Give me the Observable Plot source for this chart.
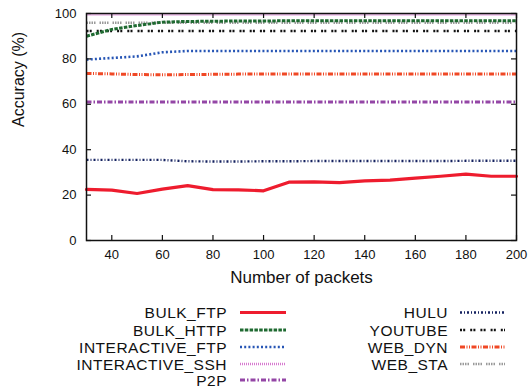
<!DOCTYPE html>
<html>
<head>
<meta charset="utf-8">
<script src="https://cdn.jsdelivr.net/npm/d3@7"></script>
<script src="https://cdn.jsdelivr.net/npm/@observablehq/plot@0.6"></script>
<style>
  body { margin: 0; background: #fff; font-family: "Liberation Sans", Arial, sans-serif; }
  #chart svg { display: block; }
</style>
</head>
<body>
<div id="chart"></div>
<script>
// ---- data ----
const packets = [30, 40, 50, 60, 70, 80, 90, 100, 110, 120, 130, 140, 150, 160, 170, 180, 190, 200];
const bulkFtp = [22.5, 22.2, 20.7, 22.6, 24.2, 22.4, 22.3, 21.9, 25.7, 25.8, 25.5, 26.3, 26.6, 27.5, 28.3, 29.2, 28.3, 28.3];
const bulkHttp = [90.0, 93.0, 94.7, 96.2, 96.5, 96.6, 96.7, 96.7, 96.8, 96.8, 96.8, 96.8, 96.8, 96.8, 96.8, 96.8, 96.8, 96.8];
const interactiveFtp = [79.7, 80.4, 81.1, 82.9, 83.5, 83.5, 83.5, 83.5, 83.5, 83.5, 83.5, 83.5, 83.5, 83.5, 83.5, 83.5, 83.5, 83.5];
const interactiveSsh = [99.6, 99.6, 99.6, 99.6, 99.6, 99.6, 99.6, 99.6, 99.6, 99.6, 99.6, 99.6, 99.6, 99.6, 99.6, 99.6, 99.6, 99.6];
const p2p = [61.0, 61.0, 61.0, 61.0, 61.0, 61.0, 61.0, 61.0, 61.0, 61.0, 61.0, 61.0, 61.0, 61.0, 61.0, 61.0, 61.0, 61.0];
const hulu = [35.5, 35.5, 35.5, 35.5, 34.9, 34.8, 34.8, 34.9, 34.9, 35.0, 35.0, 35.0, 35.0, 35.0, 35.0, 35.1, 35.1, 35.1];
const youtube = [92.3, 92.3, 92.3, 92.3, 92.3, 92.3, 92.3, 92.3, 92.3, 92.3, 92.3, 92.3, 92.3, 92.3, 92.3, 92.3, 92.3, 92.3];
const webDyn = [73.6, 73.4, 73.1, 73.0, 73.1, 73.2, 73.3, 73.3, 73.4, 73.4, 73.4, 73.4, 73.4, 73.4, 73.4, 73.4, 73.4, 73.4];
const webSta = [95.9, 95.9, 95.9, 95.9, 95.9, 95.9, 95.9, 95.9, 95.9, 95.9, 95.9, 95.9, 95.9, 95.9, 95.9, 95.9, 95.9, 95.9];
const xTicks = [40, 60, 80, 100, 120, 140, 160, 180, 200];
const yTicks = [0, 20, 40, 60, 80, 100];
const xLabel = "Number of packets";
const yLabel = "Accuracy (%)";

// series styles
const series = [
  {name: "BULK_FTP", values: bulkFtp, color: "#ee1c2e", dash: "none", width: 3.2, col: 0},
  {name: "BULK_HTTP", values: bulkHttp, color: "#1f6a31", dash: "3.5,1.3", width: 3, col: 0},
  {name: "INTERACTIVE_FTP", values: interactiveFtp, color: "#2655b5", dash: "2,2.2", width: 2.6, col: 0},
  {name: "INTERACTIVE_SSH", values: interactiveSsh, color: "#d77ad0", dash: "1,1", width: 2.6, col: 0},
  {name: "P2P", values: p2p, color: "#9446a6", dash: "5,2,1.5,2", width: 3, col: 0},
  {name: "HULU", values: hulu, color: "#152260", dash: "2,2,1,2", width: 2.4, col: 1},
  {name: "YOUTUBE", values: youtube, color: "#111111", dash: "2,1.2,2,5", width: 2.4, col: 1},
  {name: "WEB_DYN", values: webDyn, color: "#f04825", dash: "5,1.5,1,1.5,1,1.5", width: 3, col: 1},
  {name: "WEB_STA", values: webSta, color: "#9a9a9a", dash: "1.5,1,1.5,1,1.5,1,1.5,4", width: 2.4, col: 1}
];

const drawOrder = ["INTERACTIVE_SSH", "WEB_STA", "YOUTUBE", "BULK_HTTP", "INTERACTIVE_FTP", "WEB_DYN", "P2P", "HULU", "BULK_FTP"];

const lineMarks = drawOrder.map(n => {
  const s = series.find(d => d.name === n);
  const rows = packets.map((p, i) => ({x: p, y: s.values[i]}));
  return Plot.line(rows, {x: "x", y: "y", stroke: s.color, strokeWidth: s.width,
    strokeDasharray: s.dash === "none" ? null : s.dash,
    strokeLinecap: s.dash === "none" ? "round" : "butt", strokeLinejoin: "round"});
});

const W = 529, H = 300;
const chart = Plot.plot({
  width: W, height: H,
  marginLeft: 86, marginRight: 13, marginTop: 13, marginBottom: 60,
  style: {fontFamily: "'Liberation Sans', Arial, sans-serif", fontSize: "13px", color: "#111"},
  x: {domain: [30, 200]},
  y: {domain: [0, 100]},
  marks: [
    ...lineMarks,
    Plot.frame({stroke: "#111", strokeWidth: 1.5}),
    Plot.tickX(xTicks, {x: d => d, insetTop: 222, stroke: "#111", strokeWidth: 1.2}),
    Plot.tickX(xTicks, {x: d => d, insetBottom: 222, stroke: "#111", strokeWidth: 1.2}),
    Plot.tickY(yTicks, {y: d => d, insetRight: 425, stroke: "#111", strokeWidth: 1.2}),
    Plot.tickY(yTicks, {y: d => d, insetLeft: 425, stroke: "#111", strokeWidth: 1.2}),
    Plot.axisX(xTicks, {tickSize: 0, tickPadding: 9, fontSize: 13, label: null}),
    Plot.axisY(yTicks, {tickSize: 0, tickPadding: 10, fontSize: 13, label: null}),
    Plot.text([xLabel], {frameAnchor: "bottom", dy: 42, fontSize: 17, fill: "#111"}),
    Plot.text([yLabel], {frameAnchor: "left", rotate: -90, dx: -68, fontSize: 16, fill: "#111"})
  ]
});
document.getElementById("chart").appendChild(chart);

// ---- legend ----
const legend = d3.select("#chart").append("svg")
  .attr("width", W).attr("height", 387 - H)
  .style("display", "block")
  .style("font-family", "'Liberation Sans', Arial, sans-serif");
const colText = [227, 448];
const colLine = [[240, 286], [460, 505]];
const rowY = [12.5, 30, 47, 64, 80];
const counts = [0, 0];
series.forEach(s => {
  const r = counts[s.col]++;
  const y = rowY[r];
  const g = legend.append("g");
  g.append("text").attr("x", colText[s.col]).attr("y", y)
    .attr("text-anchor", "end").attr("dominant-baseline", "central")
    .attr("font-size", 15.5).attr("letter-spacing", 0.5)
    .attr("fill", "#111").text(s.name);
  g.append("line").attr("x1", colLine[s.col][0]).attr("x2", colLine[s.col][1])
    .attr("y1", y).attr("y2", y)
    .attr("stroke", s.color).attr("stroke-width", s.width)
    .attr("stroke-dasharray", s.dash === "none" ? null : s.dash);
});
</script>
</body>
</html>
